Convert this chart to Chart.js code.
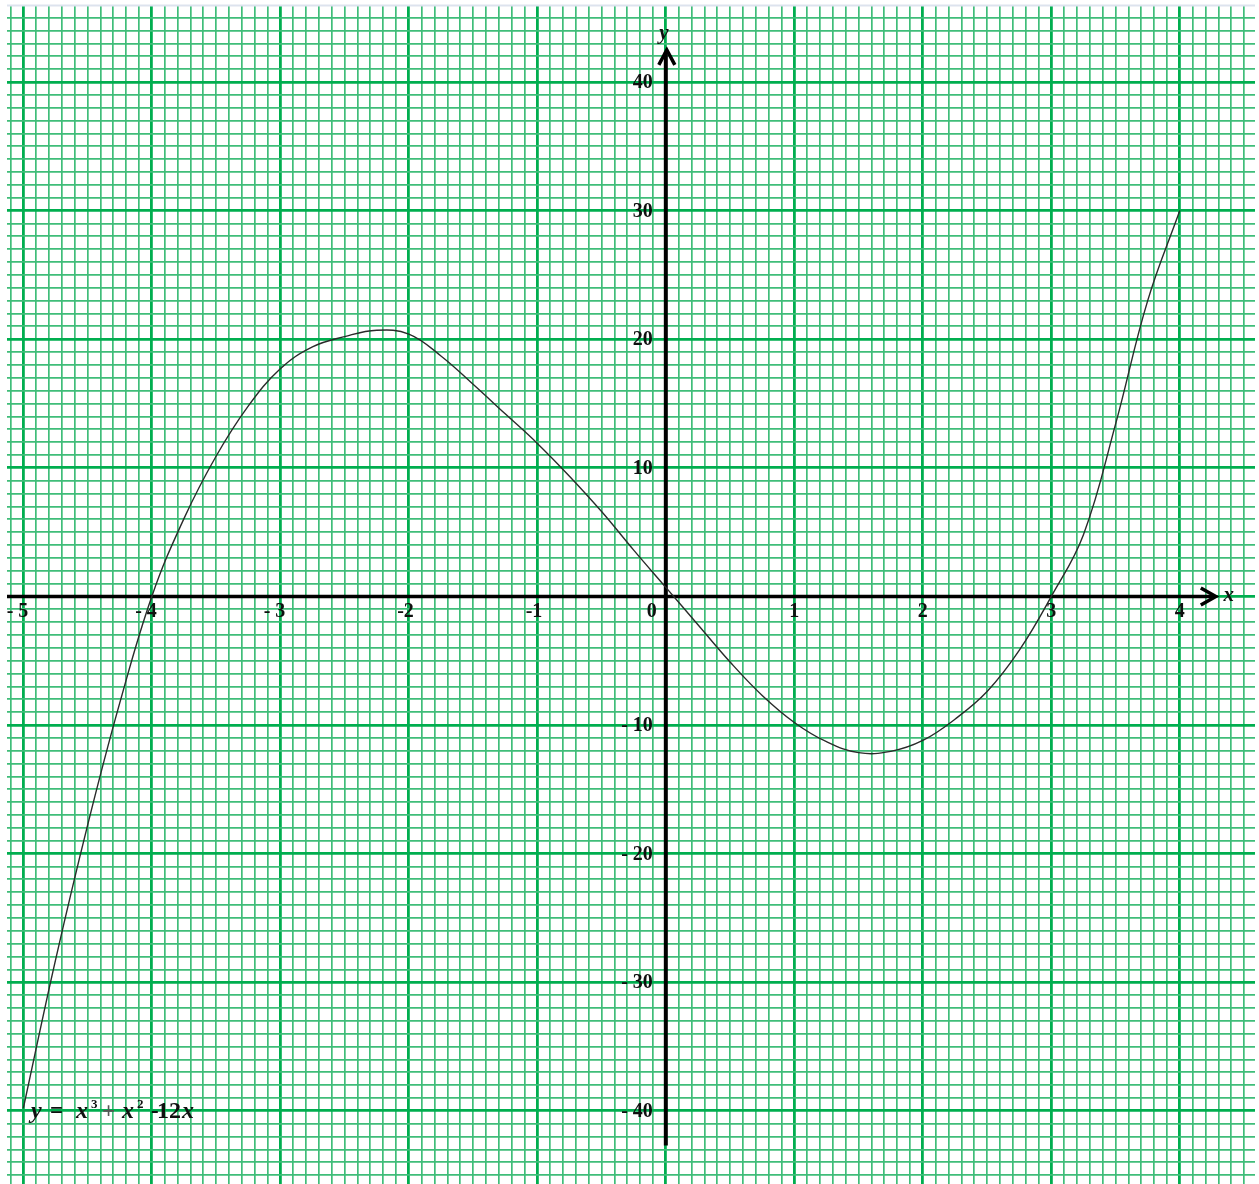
<!DOCTYPE html>
<html>
<head>
<meta charset="utf-8">
<script src="https://cdn.jsdelivr.net/npm/chart.js@4.4.1/dist/chart.umd.min.js"></script>
<style>
  html, body { margin: 0; padding: 0; background: #fff; }
  #wrap { width: 1259px; height: 1184px; }
</style>
</head>
<body>
<div id="wrap"><canvas id="graph"></canvas></div>
<script>
// table of values for y = x^3 + x^2 - 12x, as plotted
const curveX = [-5, -4.75, -4.5, -4.25, -4, -3.75, -3.5, -3.25, -3, -2.75, -2.5, -2.25, -2,
  -1.75, -1.5, -1.25, -1, -0.75, -0.5, -0.25, 0, 0.25, 0.5, 0.75, 1, 1.25, 1.5, 1.75, 2,
  2.25, 2.5, 2.75, 3, 3.25, 3.5, 3.75, 4];
const curveY = [-39.8, -28.3, -17.8, -8.3, 0, 6.05, 10.9, 14.8, 17.7, 19.4, 20.2, 20.7, 20.4,
  18.7, 16.5, 14.2, 11.9, 9.35, 6.6, 3.6, 0.7, -2.2, -5.1, -7.7, -9.8, -11.3, -12.15, -12.05, -11.2,
  -9.55, -7.4, -4.2, 0, 4.8, 13.4, 23.0, 30.0];

// axis numbering
const xTickValues = [-5, -4, -3, -2, -1, 0, 1, 2, 3, 4];
const xTickLabels = ['- 5', '- 4', '- 3', '-2', '-1', '0', '1', '2', '3', '4'];
const yTickValues = [40, 30, 20, 10, -10, -20, -30, -40];
const yTickLabels = ['40', '30', '20', '10', '- 10', '- 20', '- 30', '- 40'];

// where the drawn axes stop (arrow tips / tail)
const xAxisTip = 4.28;
const yAxisTip = 42.5;
const yAxisTail = -42.7;

const SERIF = "'Liberation Serif', 'Times New Roman', serif";
const MAJOR = '#00ae4f';
const MINOR = '#3fbd79';
const INK = '#101010';

// mm paper: a grid line every 1/div of a unit
function paperTicks(from, to, div) {
    const ticks = [];
    for (let i = from; i <= to; i++) ticks.push({ value: i / div });
    return ticks;
}

function isMajor(v, every) {
    const r = v / every;
    return Math.abs(r - Math.round(r)) < 1e-6;
}

function arrowHead(ctx, tipX, tipY, dir) {
    ctx.beginPath();
    if (dir === 'right') {
        ctx.moveTo(tipX - 15, tipY - 8.5);
        ctx.lineTo(tipX, tipY);
        ctx.lineTo(tipX - 15, tipY + 8.5);
    } else {
        ctx.moveTo(tipX - 8, tipY + 15);
        ctx.lineTo(tipX, tipY);
        ctx.lineTo(tipX + 8, tipY + 15);
    }
    ctx.stroke();
}

const paperPlugin = {
    id: 'paper',
    beforeDatasetsDraw(chart) {
        const { ctx, chartArea, scales: { x, y } } = chart;
        const x0 = x.getPixelForValue(0);
        const y0 = y.getPixelForValue(0);
        ctx.save();
        ctx.strokeStyle = '#000';
        ctx.lineCap = 'butt';

        // x axis
        ctx.lineWidth = 3.5;
        ctx.beginPath();
        ctx.moveTo(chartArea.left, y0);
        ctx.lineTo(x.getPixelForValue(xAxisTip) - 2, y0);
        ctx.stroke();
        // y axis
        ctx.lineWidth = 4;
        ctx.beginPath();
        ctx.moveTo(x0, y.getPixelForValue(yAxisTail));
        ctx.lineTo(x0, y.getPixelForValue(yAxisTip) + 2);
        ctx.stroke();

        ctx.lineWidth = 3.5;
        ctx.lineJoin = 'miter';
        arrowHead(ctx, x.getPixelForValue(xAxisTip), y0, 'right');
        arrowHead(ctx, x0 + 1, y.getPixelForValue(yAxisTip), 'up');
        ctx.restore();
    },
    afterDatasetsDraw(chart) {
        const { ctx, scales: { x, y } } = chart;
        const x0 = x.getPixelForValue(0);
        const y0 = y.getPixelForValue(0);
        ctx.save();
        ctx.fillStyle = INK;
        ctx.textBaseline = 'middle';

        // numbers under the x axis, last digit centred on its grid line
        ctx.font = 'bold 20px ' + SERIF;
        ctx.textAlign = 'right';
        xTickValues.forEach((v, i) => {
            const label = xTickLabels[i];
            const half = ctx.measureText(label.slice(-1)).width / 2;
            const px = x.getPixelForValue(v) + (v === 0 ? -14 : 0);
            ctx.fillText(label, px + half, y0 + 15);
        });

        // numbers left of the y axis
        ctx.font = 'bold 20px ' + SERIF;
        yTickValues.forEach((v, i) => {
            ctx.fillText(yTickLabels[i], x0 - 13, y.getPixelForValue(v) + 1);
        });

        // axis names
        ctx.font = 'italic bold 21px ' + SERIF;
        ctx.textAlign = 'center';
        ctx.fillText('x', x.getPixelForValue(xAxisTip) + 13, y0 - 1);
        ctx.fillText('y', x0 - 2, y.getPixelForValue(yAxisTip) - 16);

        // equation of the curve, bottom left
        const base = 1118;
        const parts = [
            { t: 'y', at: 31, style: 'italic bold 24px' },
            { t: '=', at: 50, style: 'bold 23px' },
            { t: 'x', at: 76, style: 'italic bold 24px' },
            { t: '3', at: 91, style: 'bold 13px', up: 10 },
            { t: '+', at: 102, style: 'bold 23px', color: '#555' },
            { t: 'x', at: 122, style: 'italic bold 24px' },
            { t: '2', at: 137, style: 'bold 13px', up: 10 },
            { t: '-', at: 151, style: 'bold 23px' },
            { t: '12', at: 157, style: 'bold 24px' },
            { t: 'x', at: 182, style: 'italic bold 24px' }
        ];
        ctx.textAlign = 'left';
        ctx.textBaseline = 'alphabetic';
        parts.forEach(p => {
            ctx.font = p.style + ' ' + SERIF;
            ctx.fillStyle = p.color || INK;
            ctx.fillText(p.t, p.at, base - (p.up || 0));
        });
        ctx.restore();
    },
    afterDraw(chart) {
        // thin grey edge along the top of the sheet
        const { ctx, chartArea } = chart;
        ctx.save();
        ctx.strokeStyle = '#dde3ee';
        ctx.lineWidth = 2;
        ctx.beginPath();
        ctx.moveTo(chartArea.left, chartArea.top - 0.5);
        ctx.lineTo(chartArea.right, chartArea.top - 0.5);
        ctx.stroke();
        ctx.restore();
    }
};

new Chart(document.getElementById('graph'), {
    type: 'scatter',
    data: {
        datasets: [{
            label: 'y = x³ + x² - 12x',
            data: curveX.map((v, i) => ({ x: v, y: curveY[i] })),
            showLine: true,
            borderColor: '#2a2a2a',
            borderWidth: 1.4,
            pointRadius: 0,
            tension: 0.4,
            fill: false,
        }]
    },
    options: {
        responsive: true,
        maintainAspectRatio: false,
        animation: false,
        layout: { padding: { left: 7, top: 6, right: 4, bottom: 0 } },
        plugins: {
            legend: { display: false },
            tooltip: { enabled: false },
        },
        scales: {
            x: {
                type: 'linear',
                min: -5.127,
                max: 4.585,
                bounds: 'data',
                ticks: { display: false, autoSkip: false },
                border: { display: false },
                afterBuildTicks: scale => { scale.ticks = paperTicks(-51, 45, 10); },
                grid: {
                    drawTicks: false,
                    color: c => (c.tick && isMajor(c.tick.value, 1)) ? MAJOR : MINOR,
                    lineWidth: c => (c.tick && isMajor(c.tick.value, 1)) ? 2.8 : 1.7,
                },
            },
            y: {
                type: 'linear',
                min: -45.69,
                max: 45.91,
                bounds: 'data',
                ticks: { display: false, autoSkip: false },
                border: { display: false },
                afterBuildTicks: scale => { scale.ticks = paperTicks(-45, 45, 1); },
                grid: {
                    drawTicks: false,
                    color: c => (c.tick && isMajor(c.tick.value, 10)) ? MAJOR : MINOR,
                    lineWidth: c => (c.tick && isMajor(c.tick.value, 10)) ? 2.8 : 1.7,
                },
            },
        },
    },
    plugins: [paperPlugin],
});
</script>
</body>
</html>
